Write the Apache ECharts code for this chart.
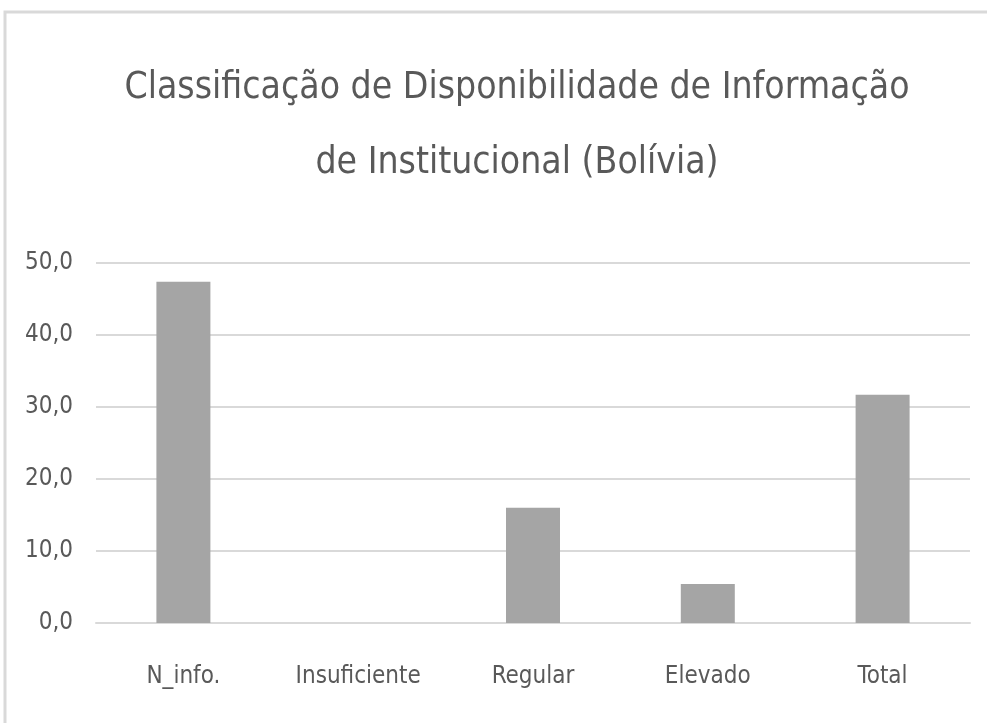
<!DOCTYPE html>
<html>
<head>
<meta charset="utf-8">
<script src="https://cdn.jsdelivr.net/npm/echarts@6/dist/echarts.min.js"></script>
<style>
  html, body { margin: 0; padding: 0; background: #ffffff; }
  #chart { width: 987px; height: 723px; }
</style>
</head>
<body>
<div id="chart"></div>
<script>
// categorias e valores (%)
var categories = ['N_info.', 'Insuficiente', 'Regular', 'Elevado', 'Total']
var values = [47.4, 0, 16.0, 5.4, 31.7]
var yTicks = [0, 10, 20, 30, 40, 50]

var fontFam = '"Liberation Sans Narrow", "DejaVu Sans Condensed", "Roboto", sans-serif'
var myChart = echarts.init(document.getElementById('chart'))
var option = {
  backgroundColor: '#ffffff',
  // moldura do gráfico
  graphic: [
    {
      type: 'rect',
      shape: { x: 5, y: 12, width: 1100, height: 1000 },
      style: { fill: 'none', stroke: '#d9d9d9', lineWidth: 3 },
      silent: true
    }
  ],
  title: {
    text: 'Classificação de Disponibilidade de Informação\nde Institucional (Bolívia)',
    left: 512,
    textAlign: 'center',
    top: 46,
    textStyle: {
      fontFamily: fontFam,
      fontSize: 37,
      fontWeight: 'normal',
      color: '#595959',
      lineHeight: 75
    }
  },
  grid: {
    left: 96,
    right: 17,
    top: 263,
    bottom: 100
  },
  xAxis: {
    type: 'category',
    data: categories,
    axisLine: { lineStyle: { color: '#d9d9d9', width: 2 } },
    axisTick: { show: false },
    axisLabel: {
      interval: 0,
      fontFamily: fontFam,
      fontSize: 24,
      color: '#595959',
      margin: 42
    }
  },
  yAxis: {
    type: 'value',
    min: yTicks[0],
    max: yTicks[yTicks.length - 1],
    interval: 10,
    axisLine: { show: false },
    axisTick: { show: false },
    splitLine: { lineStyle: { color: '#d9d9d9', width: 2 } },
    axisLabel: {
      fontFamily: fontFam,
      fontSize: 24,
      color: '#595959',
      margin: 23,
      formatter: function (v) { return v.toFixed(1).replace('.', ',') }
    }
  },
  series: [
    {
      type: 'bar',
      data: values,
      barWidth: 54,
      itemStyle: { color: '#a5a5a5' }
    }
  ]
}
myChart.setOption(option)
</script>
</body>
</html>
